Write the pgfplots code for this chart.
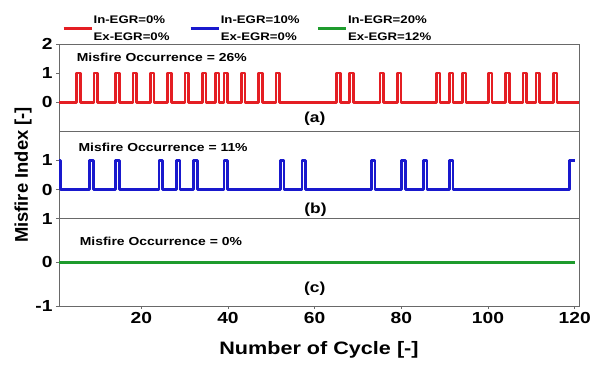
\documentclass[border=0pt]{standalone}
\usepackage{fontspec}
\setmainfont{Liberation Sans}[FakeStretch=1.2]
\newfontfamily\ylabfont{Liberation Sans}
\usepackage{pgfplots}
\pgfplotsset{compat=1.18}
\definecolor{cred}{RGB}{228,30,35}
\definecolor{cblue}{RGB}{25,25,205}
\definecolor{cgreen}{RGB}{30,155,45}
\definecolor{axgray}{RGB}{105,105,105}
\newcommand{\annfont}{\fontsize{11.6}{13}\selectfont\bfseries}
\newcommand{\labfont}{\fontsize{14.5}{16}\selectfont\bfseries}
\begin{document}
\begin{tikzpicture}
\path[use as bounding box] (-59pt,-61pt) rectangle (533pt,306pt);
\pgfplotsset{
  panel/.style={
    scale only axis, width=520pt, height=87.33pt,
    xmin=1, xmax=121,
    axis line style={axgray, line width=0.9pt},
    every tick/.style={axgray, line width=0.9pt},
    tick align=outside, major tick length=3pt,
    ytick pos=left, xtick pos=bottom,
    ticklabel style={font=\fontsize{16}{16}\selectfont\bfseries},
    /pgf/number format/assume math mode=true,
  },
  sig/.style={line width=2.6pt, line join=round},
}
% ---------- panel (a)
\begin{axis}[panel, at={(0pt,174.67pt)}, ymin=-1, ymax=2, ytick={0,1,2}, xtick=\empty,
  legend columns=3,
  legend style={at={(axis description cs:0.0058,1.247)}, anchor=west, draw=none, fill=none,
    inner sep=0pt, nodes={inner sep=0.8pt}, column sep=0pt,
    font=\fontsize{11}{17}\selectfont\bfseries, cells={anchor=west}},
  legend image code/.code={\draw[#1] (0pt,-6pt) -- (28pt,-6pt);}]
\addplot[sig, cred] coordinates {
(1,0)
(5.05,0)(5.05,1)(5.95,1)(5.95,0)
(9.05,0)(9.05,1)(9.95,1)(9.95,0)
(14.05,0)(14.05,1)(14.95,1)(14.95,0)
(18.05,0)(18.05,1)(18.95,1)(18.95,0)
(22.05,0)(22.05,1)(22.95,1)(22.95,0)
(26.05,0)(26.05,1)(26.95,1)(26.95,0)
(30.05,0)(30.05,1)(30.95,1)(30.95,0)
(34.05,0)(34.05,1)(34.95,1)(34.95,0)
(37.05,0)(37.05,1)(37.95,1)(37.95,0)
(39.05,0)(39.05,1)(39.95,1)(39.95,0)
(43.05,0)(43.05,1)(43.95,1)(43.95,0)
(47.05,0)(47.05,1)(47.95,1)(47.95,0)
(51.05,0)(51.05,1)(51.95,1)(51.95,0)
(65.05,0)(65.05,1)(65.95,1)(65.95,0)
(68.05,0)(68.05,1)(68.95,1)(68.95,0)
(75.05,0)(75.05,1)(75.95,1)(75.95,0)
(79.05,0)(79.05,1)(79.95,1)(79.95,0)
(88.05,0)(88.05,1)(88.95,1)(88.95,0)
(91.05,0)(91.05,1)(91.95,1)(91.95,0)
(94.05,0)(94.05,1)(94.95,1)(94.95,0)
(100.05,0)(100.05,1)(100.95,1)(100.95,0)
(104.05,0)(104.05,1)(104.95,1)(104.95,0)
(108.05,0)(108.05,1)(108.95,1)(108.95,0)
(111.05,0)(111.05,1)(111.95,1)(111.95,0)
(115.05,0)(115.05,1)(115.95,1)(115.95,0)
(121,0)};
\addlegendentry{\makebox[95pt][l]{\begin{tabular}{@{}l@{}}In-EGR=0\%\\Ex-EGR=0\%\end{tabular}}}
\addlegendimage{sig, cblue}
\addlegendentry{\makebox[95pt][l]{\begin{tabular}{@{}l@{}}In-EGR=10\%\\Ex-EGR=0\%\end{tabular}}}
\addlegendimage{sig, cgreen}
\addlegendentry{\makebox[95pt][l]{\begin{tabular}{@{}l@{}}In-EGR=20\%\\Ex-EGR=12\%\end{tabular}}}
\node[anchor=west, font=\annfont] at (axis cs:4.3,1.55) {Misfire Occurrence = 26\%};
\node[font=\labfont] at (axis cs:60,-0.58) {(a)};
\end{axis}
% ---------- panel (b)
\begin{axis}[panel, at={(0pt,87.33pt)}, ymin=-1, ymax=2, ytick={0,1}, xtick=\empty,
  ylabel={\ylabfont\fontsize{18.4}{20}\selectfont\bfseries Misfire Index [-]},
  y label style={at={(axis description cs:-0.069,0.5)}, anchor=center}]
\addplot[sig, cblue] coordinates {
(1,1)(1.4,1)(1.4,0)
(8.05,0)(8.05,1)(8.95,1)(8.95,0)
(14.05,0)(14.05,1)(14.95,1)(14.95,0)
(24.05,0)(24.05,1)(24.95,1)(24.95,0)
(28.05,0)(28.05,1)(28.95,1)(28.95,0)
(32.05,0)(32.05,1)(32.95,1)(32.95,0)
(39.05,0)(39.05,1)(39.95,1)(39.95,0)
(52.05,0)(52.05,1)(52.95,1)(52.95,0)
(57.05,0)(57.05,1)(57.95,1)(57.95,0)
(73.05,0)(73.05,1)(73.95,1)(73.95,0)
(80.05,0)(80.05,1)(80.95,1)(80.95,0)
(85.05,0)(85.05,1)(85.95,1)(85.95,0)
(91.05,0)(91.05,1)(91.95,1)(91.95,0)
(118.8,0)(118.8,1)(120,1)};
\node[anchor=west, font=\annfont] at (axis cs:4.7,1.44) {Misfire Occurrence = 11\%};
\node[font=\labfont] at (axis cs:60.2,-0.68) {(b)};
\end{axis}
% ---------- panel (c)
\begin{axis}[panel, at={(0pt,0pt)}, ymin=-1, ymax=1, ytick={-1,0,1}, xtick={20,40,...,120},
  xlabel={\fontsize{18}{20}\selectfont\bfseries Number of Cycle [-]},
  x label style={at={(axis description cs:0.5,-0.5)}, anchor=center}]
\addplot[sig, cgreen] coordinates {(1,0) (120,0)};
\node[anchor=west, font=\annfont] at (axis cs:5,0.48) {Misfire Occurrence = 0\%};
\node[font=\labfont] at (axis cs:60,-0.61) {(c)};
\end{axis}
\end{tikzpicture}
\end{document}
